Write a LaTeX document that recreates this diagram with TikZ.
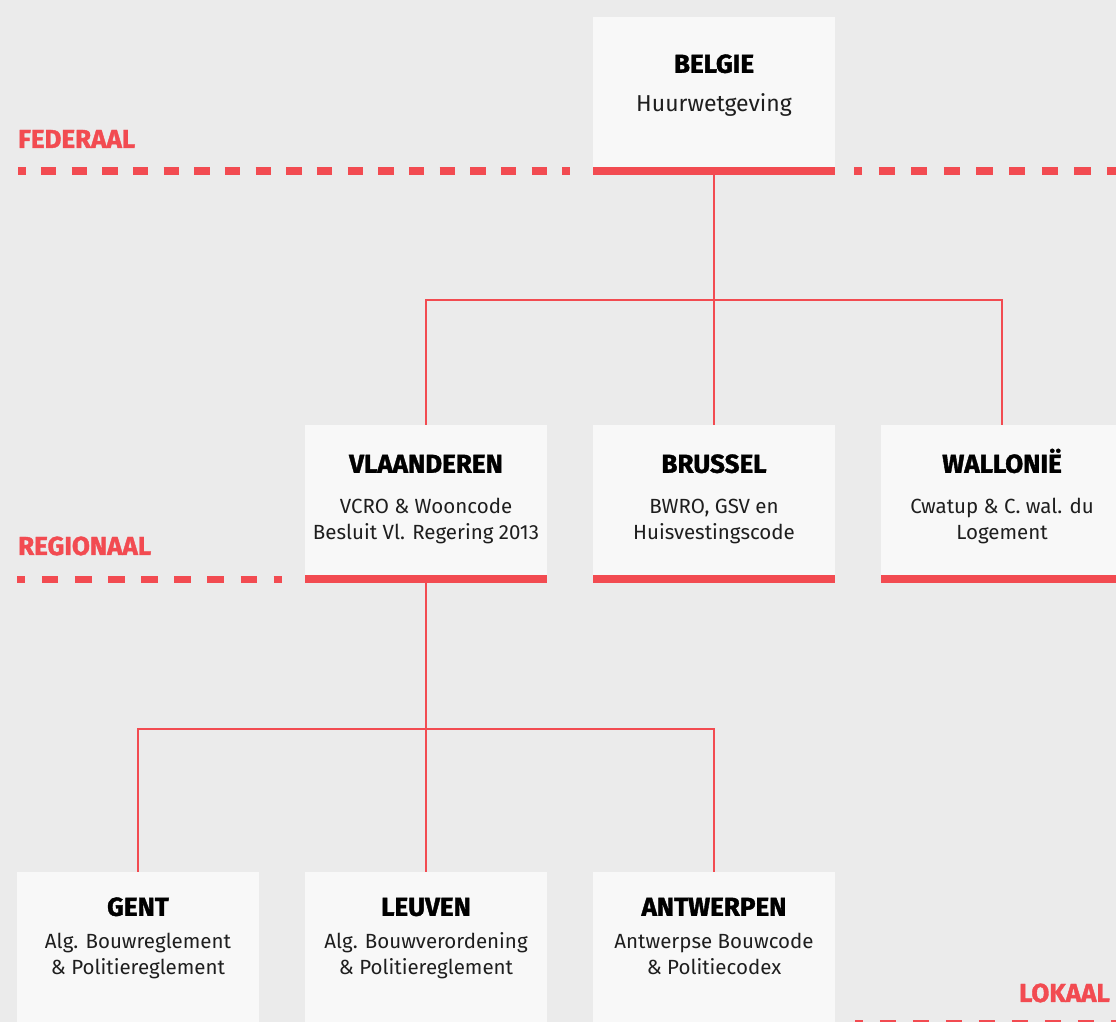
\documentclass[tikz,border=0pt]{standalone}
\usepackage{fontspec}
\setmainfont{Fira Sans}
\newfontfamily\headfont{Fira Sans}[BoldFeatures={FakeBold=1.4}]
\newcommand\lightfont{\normalfont}
\definecolor{redline}{HTML}{F24B51}
\definecolor{bgfill}{HTML}{EBEBEB}
\definecolor{boxfill}{HTML}{F8F8F8}
\definecolor{subtext}{HTML}{1E1E1E}

\begin{document}
\begin{tikzpicture}[x=1pt,y=1pt,node distance=288pt,
  region node/.style={rectangle,fill=boxfill,minimum width=242pt,minimum height=158pt,inner sep=0pt,
    path picture={\fill[redline] (path picture bounding box.south west) rectangle ([yshift=8pt]path picture bounding box.south east);}},
  title node/.style={anchor=base,inner sep=0pt,font=\headfont\bfseries\fontsize{26}{30}\selectfont},
  sub node/.style={anchor=base,inner sep=0pt,align=center,text=subtext,font=\lightfont\fontsize{20.5}{26}\selectfont},
  level node/.style={anchor=base west,inner sep=0pt,text=redline,font=\headfont\bfseries\fontsize{26}{30}\selectfont},
  level line/.style={redline,line width=7.7pt},
  link/.style={redline,line width=1.2pt}]

  \fill[bgfill] (0,0) rectangle (1116,1022);
  \useasboundingbox (0,0) rectangle (1116,1022);

  % levels
  \node[level node] (federaal) at (18,874) {FEDERAAL};
  \node[level node] (regionaal) at (18,467) {REGIONAAL};
  \node[level node, anchor=base east] (lokaal) at (1110,20) {LOKAAL};

  \draw[level line, dash pattern=on 15.33pt off 15.33pt, dash phase=7.67pt] (18,851) -- (570,851);
  \draw[level line, dash pattern=on 16.33pt off 16.33pt, dash phase=8.17pt] (854,851) -- (1130,851);
  \draw[level line, dash pattern=on 16.56pt off 16.56pt, dash phase=8.28pt] (17,442.5) -- (282,442.5);
  \draw[level line, dash pattern=on 16.5pt off 16.5pt, dash phase=8.25pt] (855,-2) -- (1130,-2);

  % boxes
  \node[region node] (belgie) at (714,926) {};
  \node[region node] (brussel) at (714,518) {};
  \node[region node] (vlaanderen) [left of=brussel] {};
  \node[region node] (wallonie) [right of=brussel] {};
  \node[region node] (leuven) at (426,71) {};
  \node[region node] (gent) [left of=leuven] {};
  \node[region node] (antwerpen) [right of=leuven] {};

  % texts (a two-line text sits on its last baseline)
  \node[title node] (belgieT) at ([yshift=-56pt]belgie.north) {BELGIE};
  \node[sub node, font=\lightfont\fontsize{23}{26}\selectfont] (belgieS) at ([yshift=-95pt]belgie.north) {Huurwetgeving};

  \node[title node] (vlaanderenT) at ([yshift=-48pt]vlaanderen.north) {VLAANDEREN};
  \node[sub node] (vlaanderenS) at ([yshift=-115pt]vlaanderen.north) {VCRO \& Wooncode\\Besluit Vl. Regering 2013};
  \node[title node] (brusselT) at ([yshift=-48pt]brussel.north) {BRUSSEL};
  \node[sub node] (brusselS) at ([yshift=-115pt]brussel.north) {BWRO, GSV en\\Huisvestingscode};
  \node[title node] (wallonieT) at ([yshift=-48pt]wallonie.north) {WALLONIË};
  \node[sub node] (wallonieS) at ([yshift=-115pt]wallonie.north) {Cwatup \& C. wal. du\\Logement};

  \node[title node] (gentT) at ([yshift=-44pt]gent.north) {GENT};
  \node[sub node] (gentS) at ([yshift=-103pt]gent.north) {Alg. Bouwreglement\\\& Politiereglement};
  \node[title node] (leuvenT) at ([yshift=-44pt]leuven.north) {LEUVEN};
  \node[sub node] (leuvenS) at ([yshift=-103pt]leuven.north) {Alg. Bouwverordening\\\& Politiereglement};
  \node[title node] (antwerpenT) at ([yshift=-44pt]antwerpen.north) {ANTWERPEN};
  \node[sub node] (antwerpenS) at ([yshift=-103pt]antwerpen.north) {Antwerpse Bouwcode\\\& Politiecodex};

  % links
  \coordinate (topbus) at (0,722);
  \coordinate (lowbus) at (0,293);
  \draw[link] (belgie.south) -- (brussel.north);
  \draw[link] (vlaanderen.north) |- (wallonie.north |- topbus) -- (wallonie.north);
  \draw[link] (vlaanderen.south) -- (leuven.north);
  \draw[link] (gent.north) |- (antwerpen.north |- lowbus) -- (antwerpen.north);
\end{tikzpicture}
\end{document}
